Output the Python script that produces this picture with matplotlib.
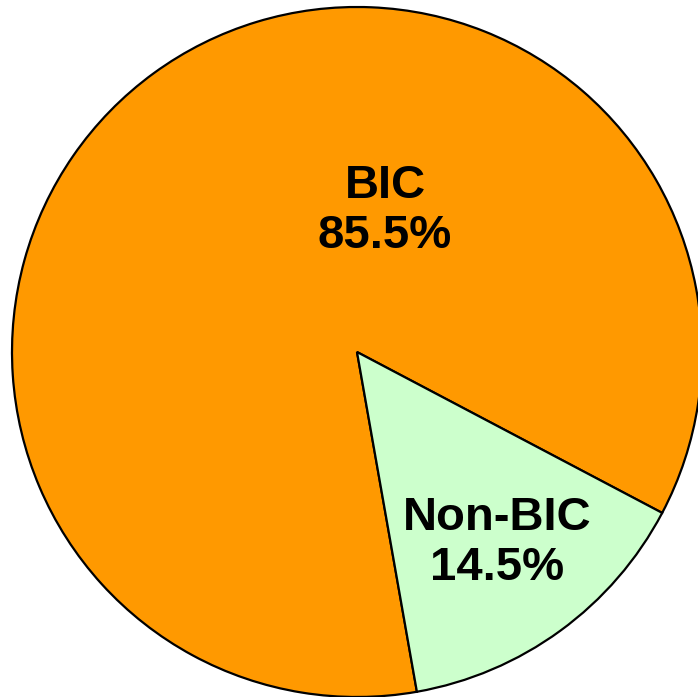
import matplotlib
matplotlib.use("Agg")
import matplotlib.pyplot as plt

categories = ["BIC", "Non-BIC"]
shares = [85.5, 14.5]
colors = ["#FF9900", "#CCFFCC"]

W, H = 698, 697
fig = plt.figure(figsize=(W / 100, H / 100), dpi=100)
ax = fig.add_axes([0, 0, 1, 1])
ax.set_xlim(0, W)
ax.set_ylim(0, H)
ax.set_aspect("equal")
ax.axis("off")

cx, cy, r = 357, H - 352, 345
start = -80 + 360 * shares[1] / 100
wedges, _ = ax.pie(
    shares, colors=colors, startangle=start, counterclock=True,
    center=(cx, cy), radius=r, frame=True,
    wedgeprops=dict(edgecolor="black", linewidth=1.6),
)
ax.set_xlim(0, W)
ax.set_ylim(0, H)
ax.axis("off")

label_pos = [(385, H - 211), (497, H - 543)]
for name, val, (x, y) in zip(categories, shares, label_pos):
    ax.text(x, y, f"{name}\n{val:.1f}%", ha="center", va="center",
            fontsize=34, fontweight="bold", family="Liberation Sans",
            linespacing=1.15)

fig.savefig("out.png", dpi=100)
